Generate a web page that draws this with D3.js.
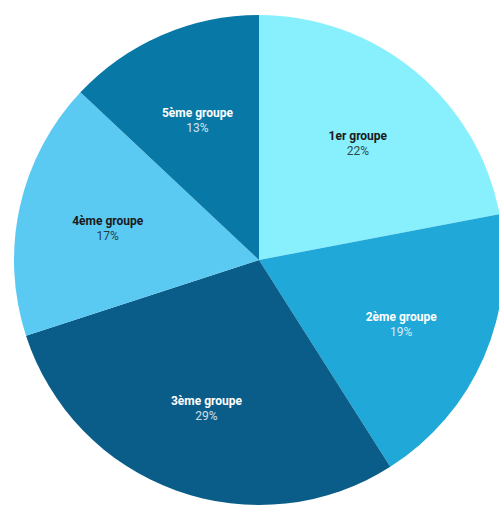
<html lang="fr">
<head>
    <meta charset="UTF-8">
    <title>Groupes</title>
    <script src="https://d3js.org/d3.v7.min.js"></script>
    <style>
        body { margin: 0; background: #fff; }
        text { font-family: Roboto, "Noto Sans", sans-serif; font-size: 12px; }
    </style>
</head>
<body>
    <div id="chart"></div>
    <script>
        var groupes = ["1er groupe", "2ème groupe", "3ème groupe", "4ème groupe", "5ème groupe"];
        var parts = [22, 19, 29, 17, 13];
        var couleurs = ["#88f0fc", "#1fa8d8", "#0a5d88", "#5bcaf2", "#0878a6"];
        var texteCouleurs = ["#1a1a1a", "#ffffff", "#ffffff", "#1a1a1a", "#ffffff"];

        var width = 499, height = 506;
        var cx = 259, cy = 260, radius = 245;

        var svg = d3.select("#chart").append("svg")
            .attr("width", width)
            .attr("height", height)
            .append("g")
            .attr("transform", "translate(" + cx + "," + cy + ")");

        var pie = d3.pie().sort(null).value(function(d){ return d; });
        var arc = d3.arc().innerRadius(0).outerRadius(radius);
        var labelArc = d3.arc().innerRadius(155).outerRadius(155);

        var arcs = pie(parts);

        svg.selectAll(".slice")
            .data(arcs)
            .enter().append("path")
            .attr("class", "slice")
            .attr("d", arc)
            .attr("fill", function(d, i){ return couleurs[i]; });

        var labels = svg.selectAll(".label")
            .data(arcs)
            .enter().append("g")
            .attr("class", "label")
            .attr("transform", function(d){
                var c = labelArc.centroid(d);
                return "translate(" + c[0] + "," + (c[1] + 3) + ")";
            });

        labels.append("text")
            .attr("text-anchor", "middle")
            .attr("y", -4)
            .attr("font-weight", "bold")
            .attr("fill", function(d, i){ return texteCouleurs[i]; })
            .text(function(d, i){ return groupes[i]; });

        labels.append("text")
            .attr("text-anchor", "middle")
            .attr("y", 11)
            .attr("fill", function(d, i){ return texteCouleurs[i]; })
            .attr("opacity", 0.8)
            .text(function(d, i){ return parts[i] + "%"; });
    </script>
</body>
</html>
